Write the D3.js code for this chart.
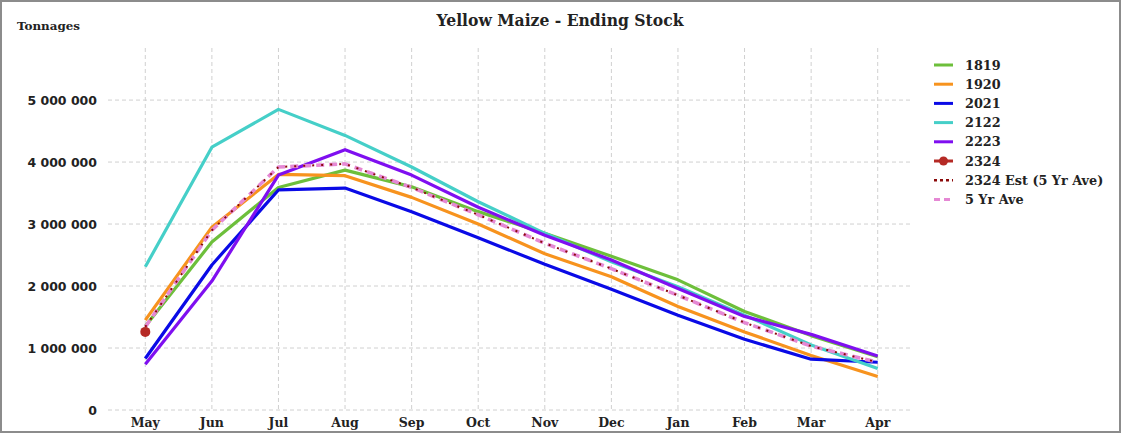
<!DOCTYPE html>
<html><head><meta charset="utf-8">
<script src="https://cdn.jsdelivr.net/npm/d3@7"></script>
<style>body{margin:0;background:#fff}svg{display:block}</style>
</head><body><svg id="c" width="1122" height="435"></svg>
<script>
const months = ["May","Jun","Jul","Aug","Sep","Oct","Nov","Dec","Jan","Feb","Mar","Apr"];
const s1819 = [1350000,2710000,3590000,3870000,3600000,3200000,2850000,2480000,2100000,1590000,1200000,860000];
const s1920 = [1450000,2950000,3800000,3780000,3430000,3000000,2520000,2150000,1670000,1260000,880000,540000];
const s2021 = [830000,2340000,3550000,3580000,3200000,2780000,2350000,1950000,1530000,1140000,820000,770000];
const s2122 = [2310000,4240000,4850000,4430000,3920000,3360000,2850000,2390000,1990000,1530000,1050000,670000];
const s2223 = [740000,2080000,3790000,4200000,3790000,3270000,2820000,2420000,1960000,1510000,1220000,870000];
const s2324 = [1260000];
const s2324Est = [1340000,2900000,3920000,3970000,3590000,3150000,2690000,2280000,1850000,1410000,1030000,770000];
const s5YrAve = [1340000,2900000,3920000,3970000,3590000,3150000,2690000,2280000,1850000,1410000,1030000,770000];
const yTicks = [0,1000000,2000000,3000000,4000000,5000000];
const seriesNames = ["1819","1920","2021","2122","2223","2324","2324 Est (5 Yr Ave)","5 Yr Ave"];

const svg = d3.select("#c");
const x = d3.scaleBand().domain(months).range([112, 911]).padding(0);
const y = d3.scaleLinear().domain([0, 5840000]).range([410, 48]);
const cx = m => x(m) + x.bandwidth()/2;

// border
svg.append("rect").attr("x",1).attr("y",1).attr("width",1119).attr("height",431)
  .attr("fill","none").attr("stroke","#8c8c8c").attr("stroke-width",2);

// title
svg.append("text").attr("x",560).attr("y",26).attr("text-anchor","middle")
  .attr("font-family","'DejaVu Serif',serif").attr("font-weight","bold")
  .attr("font-size",17).attr("fill","#222").attr("textLength",247).attr("lengthAdjust","spacingAndGlyphs")
  .text("Yellow Maize - Ending Stock");
svg.append("text").attr("x",17).attr("y",30)
  .attr("font-family","'DejaVu Serif',serif").attr("font-weight","bold")
  .attr("font-size",11.5).attr("fill","#222").attr("textLength",63).attr("lengthAdjust","spacingAndGlyphs")
  .text("Tonnages");

// grid
const grid = svg.append("g").attr("stroke","#d0d0d0").attr("stroke-width",1).attr("stroke-dasharray","4,3");
grid.selectAll("line.h").data(yTicks).join("line").attr("class","h")
  .attr("x1",108).attr("x2",912).attr("y1",d=>y(d)).attr("y2",d=>y(d));
grid.selectAll("line.v").data(months).join("line").attr("class","v")
  .attr("x1",d=>cx(d)).attr("x2",d=>cx(d)).attr("y1",48).attr("y2",410);

// y axis labels
const fmt = d => d3.format(",")(d).replace(/,/g," ");
svg.append("g").selectAll("text").data(yTicks).join("text")
  .attr("x",97).attr("y",d=>y(d)+4.5).attr("text-anchor","end")
  .attr("font-family","'DejaVu Sans',sans-serif").attr("font-weight","bold").attr("font-size",12.5).attr("fill","#222")
  .text(fmt);

// x axis labels
svg.append("g").selectAll("text").data(months).join("text")
  .attr("x",d=>cx(d)).attr("y",427).attr("text-anchor","middle")
  .attr("font-family","'DejaVu Serif',serif").attr("font-weight","bold").attr("font-size",12.5).attr("fill","#222")
  .text(d=>d);

const line = d3.line().x((d,i)=>cx(months[i])).y(d=>y(d));
const series = [
  {name:"1819", data:s1819, color:"#6dbf3b", w:3.2, dash:null},
  {name:"1920", data:s1920, color:"#f7931e", w:3.2, dash:null},
  {name:"2021", data:s2021, color:"#0a0ae6", w:3.2, dash:null},
  {name:"2122", data:s2122, color:"#45cfc8", w:3.2, dash:null},
  {name:"2223", data:s2223, color:"#7f0ff0", w:3.2, dash:null},
  {name:"5 Yr Ave", data:s5YrAve, color:"#e588d4", w:3.6, dash:"8,5"},
  {name:"2324 Est (5 Yr Ave)", data:s2324Est, color:"#8b0a0a", w:2, dash:"2,7"}
];
const g = svg.append("g").attr("fill","none");
series.forEach(s=>{
  g.append("path").attr("d",line(s.data)).attr("stroke",s.color).attr("stroke-width",s.w)
   .attr("stroke-dasharray",s.dash).attr("stroke-linejoin","round");
});
svg.append("g").selectAll("circle").data(s2324).join("circle")
  .attr("cx",(d,i)=>cx(months[i])).attr("cy",d=>y(d)).attr("r",5).attr("fill","#b52a25");

// legend
const leg = [
  {name:seriesNames[0], color:"#6dbf3b", dash:null, w:3},
  {name:seriesNames[1], color:"#f7931e", dash:null, w:3},
  {name:seriesNames[2], color:"#0a0ae6", dash:null, w:3},
  {name:seriesNames[3], color:"#45cfc8", dash:null, w:3},
  {name:seriesNames[4], color:"#7f0ff0", dash:null, w:3},
  {name:seriesNames[5], color:"#b52a25", dash:null, w:3, dot:true},
  {name:seriesNames[6], color:"#8b0a0a", dash:"3,3", w:2.5},
  {name:seriesNames[7], color:"#e588d4", dash:"6,4", w:3}
];
const lg = svg.append("g");
leg.forEach((d,i)=>{
  const yy = 65 + i*19.2;
  lg.append("line").attr("x1",934).attr("x2",953).attr("y1",yy).attr("y2",yy)
    .attr("stroke",d.color).attr("stroke-width",d.w).attr("stroke-dasharray",d.dash);
  if(d.dot) lg.append("circle").attr("cx",943.5).attr("cy",yy).attr("r",4.5).attr("fill",d.color);
  lg.append("text").attr("x",965).attr("y",yy+4.5)
    .attr("font-family","'DejaVu Serif',serif").attr("font-weight","bold").attr("font-size",12.8).attr("fill","#222")
    .text(d.name);
});
</script></body></html>
